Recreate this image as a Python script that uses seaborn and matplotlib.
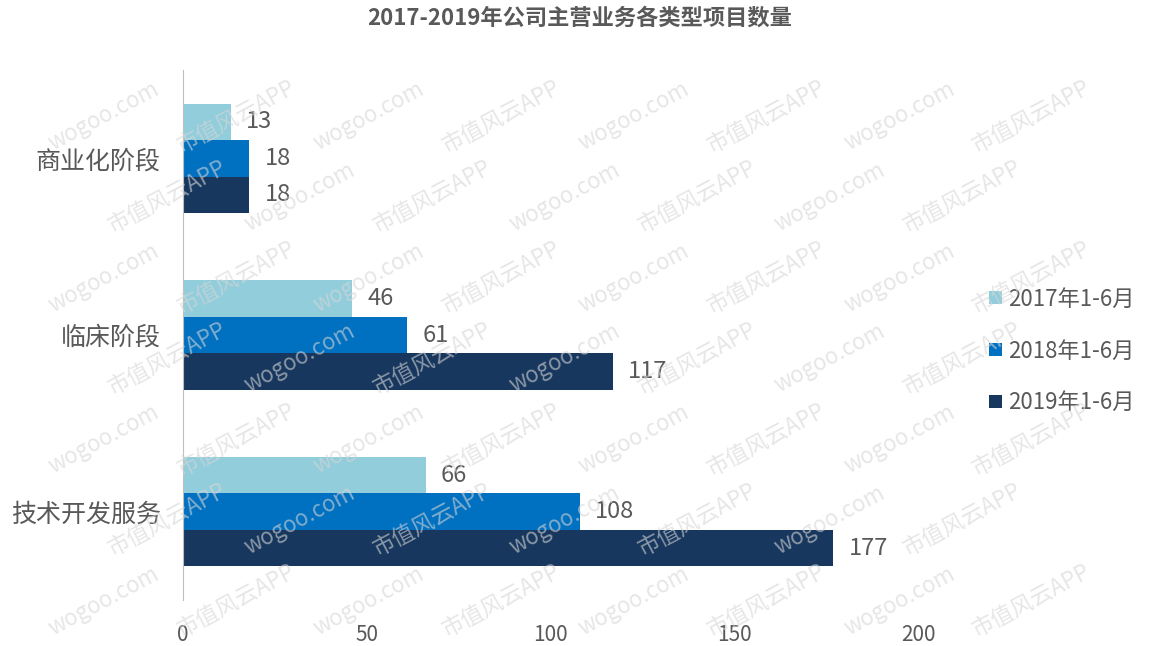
import matplotlib
matplotlib.use("Agg")
from matplotlib import pyplot as plt
import pandas as pd
import seaborn as sns

# Data
categories = ["商业化阶段", "临床阶段", "技术开发服务"]
periods = ["2017年1-6月", "2018年1-6月", "2019年1-6月"]
v2017 = [13, 46, 66]
v2018 = [18, 61, 108]
v2019 = [18, 117, 177]
colors = ["#92CDDC", "#0070C0", "#17375E"]

df = pd.DataFrame({
    "类别": categories * 3,
    "期间": [periods[0]] * 3 + [periods[1]] * 3 + [periods[2]] * 3,
    "数量": v2017 + v2018 + v2019,
})

sns.set_style("white")
plt.rcParams['font.family'] = ['Noto Sans CJK SC', 'DejaVu Sans']
grey = "#595959"

fig = plt.figure(figsize=(11.53, 6.46), dpi=100)
ax = fig.add_axes([0.1587, 0.0712, 0.6375, 0.8204])

# watermark pattern (kept inside the canvas)
for i in range(0, 8):
    for j in range(0, 9):
        x = 0.09 + j * 0.115 + (i % 2) * 0.055
        y = 0.07 + i * 0.125
        if x > 0.93 or y > 0.93:
            continue
        txt = "wogoo.com" if (i + j) % 2 == 0 else "市值风云APP"
        fig.text(x, y, txt, rotation=28, fontsize=16, color="#d6d6d6",
                 alpha=0.6, zorder=0, ha="center", va="center")

sns.barplot(data=df, y="类别", x="数量", hue="期间", order=categories,
            hue_order=periods, palette=colors, width=0.62, orient="h",
            saturation=1, linewidth=0, ax=ax, zorder=2)

for cont in ax.containers:
    ax.bar_label(cont, padding=11, fontsize=17, color=grey)

ax.set_xlim(0, 200)
ax.set_xticks([0, 50, 100, 150, 200])
ax.set_xlabel("")
ax.set_ylabel("")
ax.patch.set_alpha(0)
for s in ["top", "right", "bottom"]:
    ax.spines[s].set_visible(False)
ax.spines["left"].set_color("#bfbfbf")
ax.tick_params(axis="x", length=0, labelsize=15, labelcolor=grey, pad=17)
ax.tick_params(axis="y", length=0, labelsize=18, labelcolor=grey, pad=16)

ax.legend(loc="center left", bbox_to_anchor=(1.07, 0.47), frameon=False,
          fontsize=16, labelcolor=grey, handlelength=0.55, handleheight=0.55,
          labelspacing=1.3, handletextpad=0.3)

fig.suptitle("2017-2019年公司主营业务各类型项目数量", x=0.503, y=0.99,
             fontsize=16, fontweight="bold", color=grey)

fig.savefig("out.png", dpi=100)
